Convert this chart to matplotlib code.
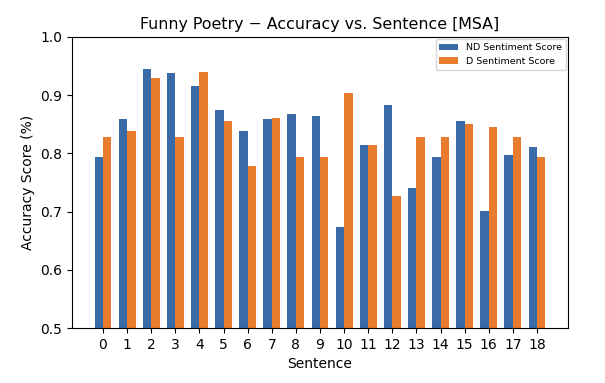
import numpy as np
import matplotlib.pyplot as plt

sentences = list(range(19))
nd_scores = [0.793, 0.859, 0.945, 0.938, 0.916, 0.874, 0.838, 0.859, 0.868, 0.864,
             0.674, 0.814, 0.883, 0.741, 0.794, 0.856, 0.701, 0.797, 0.811]
d_scores = [0.828, 0.838, 0.930, 0.828, 0.940, 0.856, 0.778, 0.861, 0.794, 0.794,
            0.903, 0.814, 0.727, 0.828, 0.828, 0.850, 0.845, 0.828, 0.794]

x = np.arange(len(sentences))
width = 0.35

fig = plt.figure(figsize=(6.05, 3.83), dpi=100)
ax = fig.add_axes([72 / 605, 1 - 328 / 383, (568 - 72) / 605, (328 - 37) / 383])
ax.bar(x - width / 2, nd_scores, width, color="#3a6aa8", label="ND Sentiment Score")
ax.bar(x + width / 2, d_scores, width, color="#e87b2d", label="D Sentiment Score")

ax.set_title("Funny Poetry \u2212 Accuracy vs. Sentence [MSA]", fontsize=11.4)
ax.set_xlabel("Sentence")
ax.set_ylabel("Accuracy Score (%)")
ax.set_xticks(x)
ax.set_xticklabels([str(s) for s in sentences])
ax.set_ylim(0.5, 1.0)
ax.legend(loc="upper right", fontsize=6.8, borderaxespad=0.25)

plt.savefig("out.png", dpi=100)
